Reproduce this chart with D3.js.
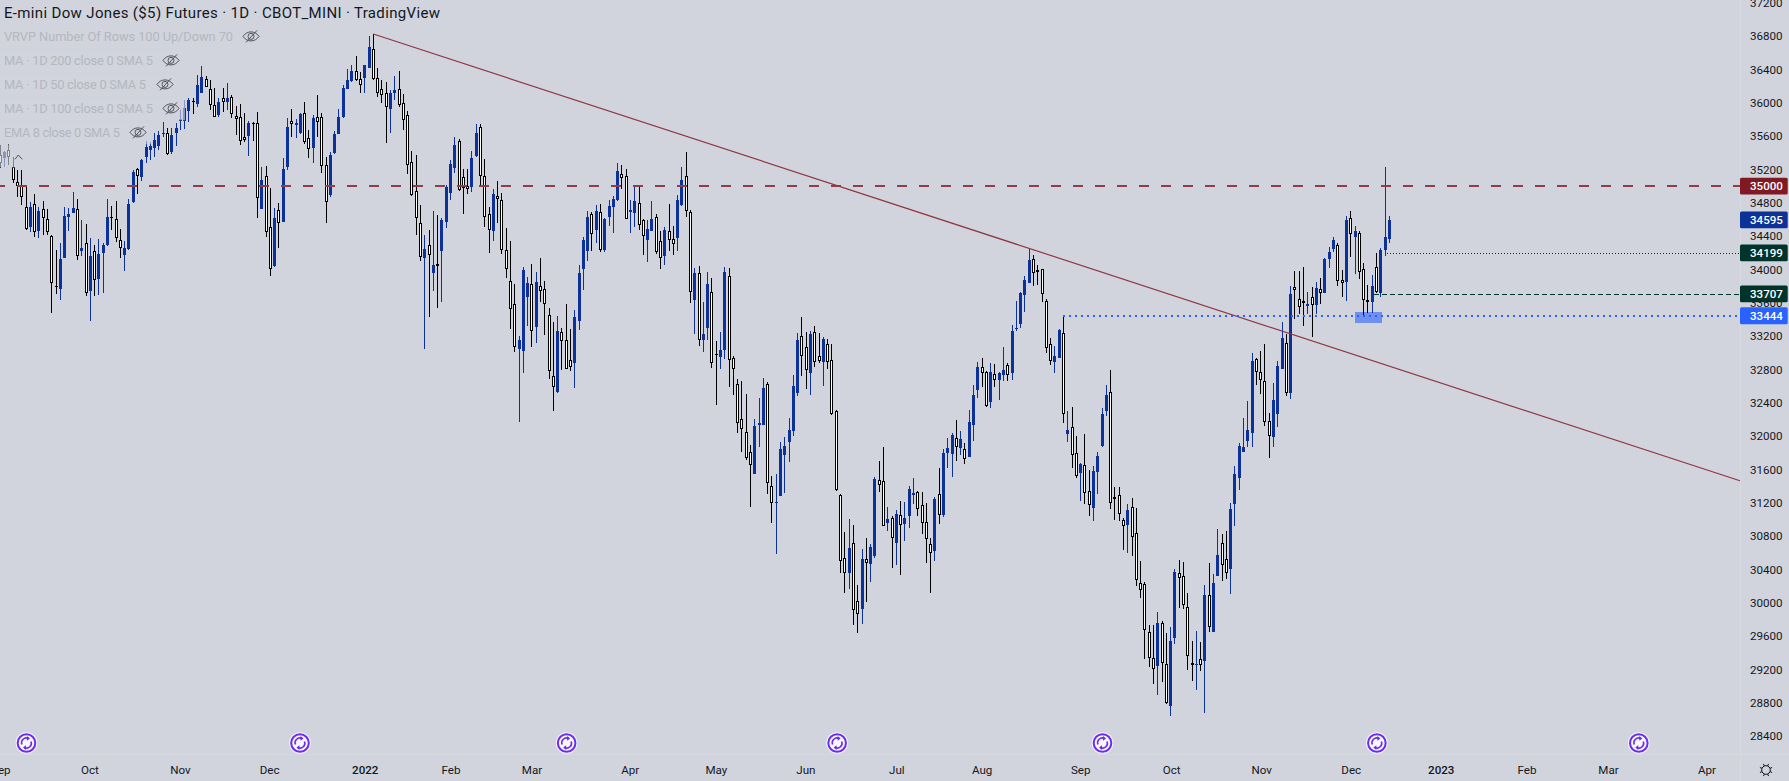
<!DOCTYPE html>
<html><head><meta charset="utf-8"><title>E-mini Dow Jones</title>
<script src="https://cdn.jsdelivr.net/npm/d3@7"></script>
<style>html,body{margin:0;padding:0;background:#d1d4dc;overflow:hidden}svg{display:block}text{font-family:Roboto,sans-serif}</style>
</head><body><div id="c"></div>
<script>
const directions = ("WBWWWWWBWB WWWWBBBBWB WBWBBBWWWB BBWBBBBBBW BBBBBWBBWW WBWBWWWWBW WBWWBWBBWB BWWBWWWBBB BBBWWBBWWW WBBWWWWWWB "
 +"WBWBBBBWWW BBWWWBWWWW WBBBWBWWWW BWWWBBBBWB WBBBBWWBBW WBBWWBWWBB WWBWBBWWBB WWWWWWBBBW WBBBBBBWWB WWBWWWWWBW "
 +"WBWBBWWBWB WBBBWWWWBW BBBWBWBBBW WBWBBWBBBB BWWWWWBBWB WWBWWBBBBW WWWBWWWWWW BWWBBWWWWB WBWBBWWBBB BBBWWWWBBB "
 +"WBWWWBWBWB BBWWBWBWWW BWBBB").replace(/ /g,"").split("");
const highs = [35492,35424,35504,35352,35192,35192,34992,34812,34900,34752,
34820,34720,34412,34232,34312,34752,34732,34928,34840,34592,
34544,34372,34292,34360,34320,34840,34760,34820,34480,34344,
34840,35192,35212,35320,35544,35532,35632,35664,35764,35692,
35692,35760,35912,36032,36052,36060,36332,36440,36320,36272,
36172,36052,36172,36232,36092,35960,35984,35872,35784,35772,
35884,35232,35240,34972,34732,34792,35332,35812,35920,35800,
35880,36012,35672,35852,36092,35872,35352,35412,35660,35920,
36212,36400,36452,36560,36372,36452,36800,36824,36412,36272,
36252,36152,36320,36380,36104,35904,35424,35372,34772,34412,
34472,34704,34652,34612,35012,35312,35592,35560,35204,35204,
35424,35744,35744,35320,34748,34964,35060,34912,34492,34340,
33824,33200,34024,33908,34064,33968,34132,33856,33532,33364,
33440,33292,33584,33284,33512,34052,34392,34700,34688,34772,
34784,34612,34832,34880,35276,35252,35204,34832,35000,35012,
34600,34592,34816,34664,34464,34512,34784,34520,34892,35224,
35408,34712,34020,34040,33612,33968,33896,33140,33248,34028,
34012,32960,32680,32660,32504,31892,32204,32460,32696,32648,
31520,31544,31928,31984,32220,32732,33232,33424,33244,33256,
33320,33232,33192,33168,33104,32312,31304,30844,31000,30928,
30212,30644,30772,30704,31508,31700,31868,31152,31044,31112,
31220,31208,31400,31496,31340,31324,31192,30776,31272,31616,
31844,31972,32040,32192,32060,31912,32312,32612,32892,32936,
32780,32872,32864,32764,33068,32876,33332,33620,33728,33920,
34244,34168,34052,34000,33640,33176,33080,33288,33444,32300,
32344,32000,31680,32024,31592,31640,31808,32340,32612,32792,
31392,31388,31012,31184,31256,31132,30500,30248,29732,29728,
29888,29776,29632,29712,30400,30512,30492,30112,29544,29660,
29528,30212,30472,30344,30884,30824,30856,31192,31640,31912,
32216,32416,32992,32932,33020,33100,32272,32632,32900,33364,
33224,33800,33980,33980,34028,33732,33784,33848,33892,34132,
34264,34388,34312,33992,34640,34700,34520,34464,34072,33812,
33932,34200,34252,35224,34640];
const bodyTops = [35372,35412,35432,35232,35052,35000,34744,34744,34780,34700,
34720,34600,34400,33804,34120,34640,34660,34732,34720,34252,
34312,34160,34224,34180,34288,34624,34632,34600,34352,34252,
34784,35164,35200,35312,35464,35480,35552,35612,35632,35632,
35612,35692,35800,35932,36032,36020,36212,36304,36280,36160,
35968,36004,36052,36060,36064,35836,35824,35584,35752,35752,
35760,35072,35124,34512,34612,34708,35200,35704,35776,35752,
35864,35872,35572,35816,35824,35824,35248,35368,35620,35824,
36180,36272,36380,36384,36280,36452,36664,36640,36300,36160,
36112,36112,36148,36168,35992,35848,35292,34944,34552,34244,
34288,34052,34060,34592,34984,35264,35492,35536,35104,34996,
35332,35640,35704,35116,34660,34904,34876,34828,34228,33856,
33580,33152,33992,33836,33820,33848,33796,33760,33448,32716,
33260,33244,33148,32908,33424,33956,34352,34632,34660,34700,
34684,34604,34760,34844,35180,35140,35116,34712,34820,34792,
34588,34480,34600,34624,34340,34472,34456,34360,34832,35072,
35116,34684,33956,33952,33224,33824,33724,32988,33032,33968,
33916,32932,32620,32200,32044,31804,32120,32156,32572,32620,
31396,31212,31840,31880,32068,32600,33152,33196,33064,33220,
33244,32956,33164,33100,32908,32296,31296,30532,30652,30712,
30016,30520,30520,30668,31484,31468,31456,31000,31012,31060,
31048,31016,31364,31312,31328,31168,30964,30700,31240,31300,
31796,31852,32012,31972,31960,31840,32168,32492,32828,32824,
32768,32764,32740,32752,32788,32848,33260,33292,33720,33868,
34108,34120,33988,34000,33616,33100,32956,33272,33232,32072,
32104,31792,31664,31648,31336,31580,31756,32264,32488,32532,
31264,31288,30988,31112,31144,30832,30232,30220,29644,29340,
29752,29752,29260,29540,30368,30352,30316,29944,29272,29268,
29320,30092,30088,30232,30572,30712,30520,31124,31540,31876,
31864,32068,32900,32920,32764,32656,32176,32428,32840,33176,
33112,33704,33784,33640,33616,33584,33664,33772,33760,34124,
34204,34352,34292,33868,34592,34612,34460,34432,34000,33628,
33800,34024,34228,34384,34588];
const bodyBottoms = [35272,35332,35344,35072,35000,34864,34480,34512,34452,34464,
34612,34452,33832,33788,33760,34140,34632,34680,34160,34224,
33712,33744,33872,33880,34200,34288,34612,34372,34252,34172,
34240,34808,35124,35112,35344,35432,35460,35484,35624,35384,
35408,35632,35784,35784,35904,36004,35984,36120,36192,35976,
35824,35852,36004,36012,35860,35800,35536,35552,35604,35740,
34852,34728,34444,34000,34040,34552,34572,35232,35740,35736,
35632,35532,35444,35452,35772,35244,34808,34892,35392,35624,
35824,36168,36264,36272,36216,36292,36420,36280,36112,36092,
35944,35928,36120,35976,35792,35248,34896,34612,34144,34132,
34176,33960,34036,34224,34564,34912,35216,34952,34972,34960,
34992,35360,35124,34624,34468,34464,34840,34228,34000,33520,
33064,33048,33024,33672,33256,33312,33736,33580,32776,32592,
32528,33144,32808,32832,32880,33384,34008,34224,34428,34472,
34236,34236,34632,34752,34832,35100,34608,34688,34680,34536,
34396,34352,34464,34212,34132,34164,34348,34300,34380,34776,
34696,33724,33636,33148,33152,33296,32872,32972,32952,33032,
32908,32800,32152,32080,31740,31648,31548,32136,32132,31432,
31200,31196,31284,31776,31932,32064,32520,32964,32788,32752,
32884,32904,32892,32884,32260,31352,30496,30352,30360,29916,
29868,29924,30472,30468,30560,31416,30924,30960,30780,30712,
30928,30944,31040,31296,31128,30960,30760,30600,30624,31048,
31052,31800,31788,31872,31860,31728,31752,32136,32556,32760,
32356,32412,32676,32676,32732,32728,32760,33284,33348,33696,
33840,33952,33972,33700,33052,32896,32892,32940,32260,32028,
31768,31524,31552,31312,31168,31140,31572,31880,32304,31200,
31248,31068,30916,30936,30792,30276,30148,29668,29340,29200,
29244,29280,28800,28764,29580,30300,29976,29356,29256,29252,
29256,29304,29704,29652,30324,30456,30352,30408,31188,31500,
31812,31944,32040,32764,32676,32172,32004,31992,32268,32808,
32520,32520,33756,33552,33600,33564,33576,33576,33720,33720,
34124,34244,33864,33840,33852,34420,34392,33972,33628,33612,
33612,33728,33716,34232,34368];
const lows = [35212,35224,35252,35040,34872,34772,34472,34452,34392,34380,
34412,34412,33480,33704,33632,34140,34464,34672,34112,34160,
33680,33384,33680,33692,33720,34280,34472,34332,34132,33984,
34232,34792,34904,35064,35272,35312,35352,35432,35584,35372,
35384,35480,35672,35680,35772,35864,35952,36112,36184,35912,
35824,35832,35892,35912,35812,35612,35492,35532,35364,35536,
34620,34720,34384,33924,34024,34252,34572,35192,35592,35572,
35624,35504,35332,35272,35584,35160,34552,34872,35384,35624,
35812,36160,36252,36260,36120,36120,36412,36272,36072,35992,
35520,35640,36032,35952,35672,35140,34884,34412,34104,33040,
33424,33744,33532,33612,34500,34832,35160,34944,34664,34904,
34932,35352,34984,34512,34200,34344,34560,34180,33900,33288,
33012,32172,32760,33324,33072,33120,33604,33212,32688,32304,
32520,32792,32800,32784,32576,33272,33752,34100,34224,34320,
34212,34212,34520,34440,34824,34960,34600,34440,34512,34472,
34176,34092,34460,34180,34008,34056,34224,34172,34224,34760,
34632,33600,33228,33080,33012,33152,32820,32368,32804,32920,
32592,32492,32040,31812,31712,31152,31544,31872,32128,31308,
30960,30588,31280,31316,31692,32004,32484,32724,32568,32492,
32832,32880,32604,32808,32252,31344,30352,30120,30168,29732,
29640,29748,30012,30252,30540,31332,30916,30864,30412,30448,
30332,30744,30900,31184,31040,30828,30480,30120,30504,30944,
31032,31616,31512,31704,31776,31668,31748,31944,32460,32588,
32348,32340,32592,32432,32664,32664,32672,33264,33296,33488,
33832,33804,33812,33612,33000,32848,32760,32932,32160,31932,
31620,31500,31224,31184,31044,30984,31304,31872,32240,31128,
30992,30984,30632,30600,30560,30204,30060,29324,29228,29028,
28892,29052,28780,28644,29508,29940,29924,29192,29064,28952,
29184,28680,29652,29648,30320,30264,30288,30108,30920,31352,
31804,31872,31872,32612,32504,32124,31736,31868,32112,32800,
32484,32448,33408,33464,33320,33464,33192,33464,33584,33712,
34020,34212,33804,33672,33624,34152,33940,33888,33452,33472,
33472,33712,33672,34164,34320];

const priceTicks = [37200,36800,36400,36000,35600,35200,34800,34400,34000,33600,33200,32800,32400,32000,31600,31200,30800,30400,30000,29600,29200,28800,28400];
const timeLabels = ["Sep","Oct","Nov","Dec","2022","Feb","Mar","Apr","May","Jun","Jul","Aug","Sep","Oct","Nov","Dec","2023","Feb","Mar","Apr"];
const timeIndexes = [0,20.8,41.9,62.7,85,105,123.9,146.8,166.9,187.8,209,228.9,251.9,273.1,294.1,315,336,356,375,398];
const dividendIndexes = [6.1,69.9,132.1,195.2,257.1,321.1,382.2];
const priceLabels = [35000,34595,34199,33707,33444];
const priceLabelColors = ["#801922","#0c3299","#00332a","#00332a","#2962ff"];
const trendIndexes = [87,405.8];
const trendPrices = [36824,31463];
const zoneIndexes = [316,322.2];
const zonePrices = [33488,33360];
const legendRows = ["VRVP Number Of Rows 100 Up/Down 70","MA · 1D 200 close 0 SMA 5","MA · 1D 50 close 0 SMA 5","MA · 1D 100 close 0 SMA 5","EMA 8 close 0 SMA 5"];
const legendWidths = [229,149,142,149,116];
const title = "E-mini Dow Jones ($5) Futures · 1D · CBOT_MINI · TradingView";

const W=1789,H=781,axisX=1740,axisY=754;
const x=d3.scaleLinear().domain([0,highs.length-1]).range([0.33,1389.3]);
const y=d3.scaleLinear().domain([37232,27860]).range([0,781]);
const candles=highs.map((h,i)=>({i,h,t:bodyTops[i],b:bodyBottoms[i],l:lows[i],up:directions[i]==="B"}));
const blue="#0c3299";
const svg=d3.select("#c").append("svg").attr("width",W).attr("height",H);
svg.append("rect").attr("width",W).attr("height",H).attr("fill","#d1d4dc");
const plot=svg.append("g");
const crisp=plot.append("g").attr("shape-rendering","crispEdges");
const cx=i=>Math.floor(x(i));
// zone
crisp.append("rect").attr("x",x(zoneIndexes[0])).attr("width",x(zoneIndexes[1])-x(zoneIndexes[0]))
 .attr("y",y(zonePrices[0])).attr("height",y(zonePrices[1])-y(zonePrices[0])).attr("fill","#6f8ff1");
// wicks
crisp.selectAll(".w").data(candles).join("rect").attr("class","w")
 .attr("x",d=>cx(d.i)).attr("width",1).attr("y",d=>Math.round(y(d.h))).attr("height",d=>Math.max(1,Math.round(y(d.l))-Math.round(y(d.h))))
 .attr("fill",d=>d.up?blue:"#000");
// bodies
crisp.selectAll(".b").data(candles).join("rect").attr("class","b")
 .attr("x",d=>cx(d.i)-1).attr("width",3).attr("y",d=>Math.round(y(d.t))).attr("height",d=>Math.max(1,Math.round(y(d.b))-Math.round(y(d.t))))
 .attr("fill",d=>d.up?blue:"#000");
crisp.selectAll(".i").data(candles.filter(d=>!d.up)).join("rect").attr("class","i")
 .attr("x",d=>cx(d.i)).attr("width",1).attr("y",d=>Math.round(y(d.t))+1).attr("height",d=>Math.max(0,Math.round(y(d.b))-Math.round(y(d.t))-2))
 .attr("fill","#fff");
// drawings
const lines=plot.append("g");
lines.append("line").attr("x1",x(trendIndexes[0])).attr("y1",y(trendPrices[0])).attr("x2",x(trendIndexes[1])).attr("y2",y(trendPrices[1]))
 .attr("stroke","#8f3643").attr("stroke-width",1.2);
const hl=(p,x1,col,sw,dash,off)=>lines.append("line").attr("x1",x1).attr("x2",axisX).attr("y1",Math.round(y(p))).attr("y2",Math.round(y(p)))
 .attr("stroke",col).attr("stroke-width",sw).attr("stroke-dasharray",dash).attr("stroke-dashoffset",off||0).attr("shape-rendering","crispEdges");
hl(35000,0,"#8f3d49",2,"10 12",5.3);
hl(34199,x(323.5),"#00332a",1,"1 2");
hl(33707,x(320.5),"#00332a",1,"5 3");
hl(33444,x(248),"#2962ff",2,"2 4");
// legend veils
const veil=svg.append("g").attr("fill","rgba(209,212,220,0.62)");
const rowY=[36.7,60.7,84.7,108.7,132.7];
const veilW=[265,185,178,185,152];
veil.selectAll("rect").data(rowY).join("rect").attr("x",0).attr("y",d=>d-11.5).attr("width",(d,i)=>veilW[i]).attr("height",23);
veil.append("rect").attr("x",0).attr("y",144.5).attr("width",30).attr("height",23);
// axes
svg.append("line").attr("x1",axisX+.5).attr("x2",axisX+.5).attr("y1",0).attr("y2",H).attr("stroke","#d7d9e0");
svg.append("line").attr("x1",0).attr("x2",W).attr("y1",axisY+.5).attr("y2",axisY+.5).attr("stroke","#d7d9e0");
const yAxis=svg.append("g").attr("transform",`translate(${axisX},0)`).call(d3.axisRight(y).tickValues(priceTicks).tickSize(0).tickPadding(10).tickFormat(d3.format("d")));
yAxis.select(".domain").remove();
yAxis.selectAll("text").attr("fill","#131722").style("font-size","11.6px").style("font-family","Roboto");
const xAxis=svg.append("g").attr("transform","translate(0,760.5)").call(d3.axisBottom(x).tickValues(timeIndexes).tickSize(0).tickPadding(5).tickFormat((d,i)=>timeLabels[i]));
xAxis.select(".domain").remove();
xAxis.selectAll("text").attr("fill","#131722").style("font-size","11.6px").style("font-family","Roboto")
 .style("font-weight",(d,i)=>/^\d/.test(timeLabels[i])?"500":"400");
// price labels
const pl=svg.append("g").selectAll("g").data(priceLabels).join("g").attr("transform",d=>`translate(${axisX},${y(d)})`);
pl.append("rect").attr("x",0).attr("y",-8.3).attr("width",47.7).attr("height",16.8).attr("rx",1.5).attr("fill",(d,i)=>priceLabelColors[i]);
pl.append("text").attr("x",10).attr("y",4.4).attr("fill","#fff").style("font-size","11.6px").style("font-weight","500").text(d=>d);
// title & legend
svg.append("text").attr("x",4).attr("y",17.5).attr("fill","#131722").style("font-size","15px").attr("textLength",436).attr("lengthAdjust","spacing").text(title);
svg.append("g").selectAll("text").data(legendRows).join("text").attr("x",4).attr("y",(d,i)=>rowY[i]+4.5)
 .attr("fill","#b4b7c0").style("font-size","12.8px").attr("textLength",(d,i)=>legendWidths[i]).attr("lengthAdjust","spacing").text(d=>d);
const eyeX=[251,171,165,171,138];
const eyes=svg.append("g").selectAll("g").data(eyeX).join("g").attr("transform",(d,i)=>`translate(${d},${rowY[i]-0.3})`)
 .attr("fill","none").attr("stroke","#50535e").attr("stroke-width",1);
eyes.append("path").attr("d","M-8 0C-4 -6 4 -6 8 0C4 6 -4 6 -8 0Z");
eyes.append("circle").attr("r",3);
eyes.append("path").attr("d","M-5 6L6 -6");
svg.append("path").attr("d","M15 159.3L18.3 155L22.3 159.3").attr("fill","none").attr("stroke","#50535e").attr("stroke-width",1);
// dividend icons
const dv=svg.append("g").selectAll("g").data(dividendIndexes).join("g").attr("transform",d=>`translate(${x(d)},743)`);
dv.append("circle").attr("r",10.8).attr("fill","#f4f2fb");
dv.append("circle").attr("r",8.8).attr("fill","#f8f7fd").attr("stroke","#6a2cf0").attr("stroke-width",2);
dv.append("path").attr("d","M-4.5 1.5A4.7 4.7 0 0 1 2 -4.5M4.5 -1.5A4.7 4.7 0 0 1 -2 4.5").attr("fill","none").attr("stroke","#6a2cf0").attr("stroke-width",1.6);
dv.append("path").attr("d","M0.5 -7L3.5 -4.4L0.5 -2.2ZM-0.5 7L-3.5 4.4L-0.5 2.2Z").attr("fill","#6a2cf0");
// gear
const gear=svg.append("g").attr("transform","translate(1766,770)").attr("fill","none").attr("stroke","#131722").attr("stroke-width",1);
gear.append("circle").attr("r",4.3);
gear.selectAll("line").data(d3.range(8)).join("line").attr("x1",d=>4.3*Math.cos(d*Math.PI/4+.39)).attr("y1",d=>4.3*Math.sin(d*Math.PI/4+.39))
 .attr("x2",d=>6.6*Math.cos(d*Math.PI/4+.39)).attr("y2",d=>6.6*Math.sin(d*Math.PI/4+.39));
</script></body></html>
